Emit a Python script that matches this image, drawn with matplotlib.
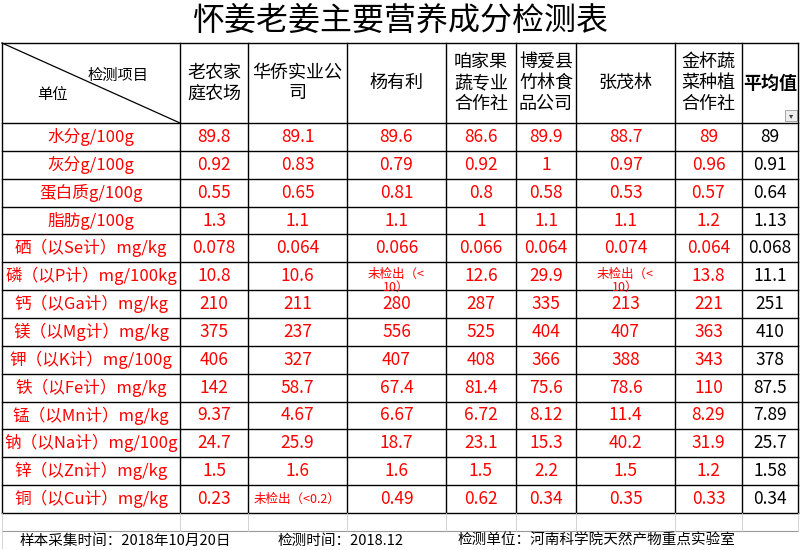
import matplotlib
matplotlib.use("Agg")
import matplotlib.pyplot as plt

plt.rcParams['font.family'] = ['Noto Sans CJK SC', 'DejaVu Sans']

title = "怀姜老姜主要营养成分检测表"
columns = ["老农家\n庭农场", "华侨实业公\n司", "杨有利", "咱家果\n蔬专业\n合作社", "博爱县\n竹林食\n品公司", "张茂林", "金杯蔬\n菜种植\n合作社", "平均值"]
items = ["水分g/100g", "灰分g/100g", "蛋白质g/100g", "脂肪g/100g", "硒（以Se计）mg/kg",
         "磷（以P计）mg/100kg", "钙（以Ga计）mg/kg", "镁（以Mg计）mg/kg", "钾（以K计）mg/100g",
         "铁（以Fe计）mg/kg", "锰（以Mn计）mg/kg", "钠（以Na计）mg/100g", "锌（以Zn计）mg/kg", "铜（以Cu计）mg/kg"]
values = [
    ["89.8", "89.1", "89.6", "86.6", "89.9", "88.7", "89", "89"],
    ["0.92", "0.83", "0.79", "0.92", "1", "0.97", "0.96", "0.91"],
    ["0.55", "0.65", "0.81", "0.8", "0.58", "0.53", "0.57", "0.64"],
    ["1.3", "1.1", "1.1", "1", "1.1", "1.1", "1.2", "1.13"],
    ["0.078", "0.064", "0.066", "0.066", "0.064", "0.074", "0.064", "0.068"],
    ["10.8", "10.6", "未检出（<\n10）", "12.6", "29.9", "未检出（<\n10）", "13.8", "11.1"],
    ["210", "211", "280", "287", "335", "213", "221", "251"],
    ["375", "237", "556", "525", "404", "407", "363", "410"],
    ["406", "327", "407", "408", "366", "388", "343", "378"],
    ["142", "58.7", "67.4", "81.4", "75.6", "78.6", "110", "87.5"],
    ["9.37", "4.67", "6.67", "6.72", "8.12", "11.4", "8.29", "7.89"],
    ["24.7", "25.9", "18.7", "23.1", "15.3", "40.2", "31.9", "25.7"],
    ["1.5", "1.6", "1.6", "1.5", "2.2", "1.5", "1.2", "1.58"],
    ["0.23", "未检出（<0.2）", "0.49", "0.62", "0.34", "0.35", "0.33", "0.34"],
]
footer = ["样本采集时间：2018年10月20日", "检测时间：2018.12", "检测单位：河南科学院天然产物重点实验室"]

xs = [2, 180, 248, 347, 446, 516, 576, 675, 742, 798]
y_title, y_head = 43, 123
row_h = (513 - 123) / 14
ys = [y_head + i * row_h for i in range(15)]
y_empty, y_bot = 531, 548

fig = plt.figure(figsize=(8, 5.5), dpi=100)
ax = fig.add_axes([0, 0, 1, 1])
ax.set_xlim(0, 800); ax.set_ylim(550, 0); ax.axis('off')

lw = 1.0
ax.text(400, 21, title, ha='center', va='center', fontsize=23)
for y in [y_title] + ys:
    ax.plot([xs[0], xs[-1]], [y, y], color='black', lw=lw)
ax.plot([xs[0], xs[-1]], [y_empty, y_empty], color='#999999', lw=0.8)
for x in xs:
    ax.plot([x, x], [y_title, ys[-1]], color='black', lw=lw)
    ax.plot([x, x], [ys[-1], y_empty], color='#cccccc', lw=0.6)
ax.plot([xs[0], xs[0]], [y_empty, y_bot], color='#cccccc', lw=0.6)
ax.plot([xs[0], xs[1]], [y_title, y_head], color='black', lw=0.9)
ax.text(118, 75, "检测项目", ha='center', va='center', fontsize=11)
ax.text(52, 95, "单位", ha='center', va='center', fontsize=11)

for j, c in enumerate(columns):
    cx = (xs[j + 1] + xs[j + 2]) / 2
    ax.text(cx, (y_title + y_head) / 2, c, ha='center', va='center', fontsize=13,
            linespacing=1.2, fontweight='bold' if c == "平均值" else 'normal')
ax.add_patch(plt.Rectangle((785, 110), 12, 11, fill=True, fc='#eeeeee', ec='#999999', lw=0.6))
ax.text(791, 116, "▾", ha='center', va='center', fontsize=6, color='#444444', family='DejaVu Sans')

for i, it in enumerate(items):
    cy = (ys[i] + ys[i + 1]) / 2
    ax.text((xs[0] + xs[1]) / 2, cy, it, ha='center', va='center', fontsize=12, color='red')
    for j, v in enumerate(values[i]):
        cx = (xs[j + 1] + xs[j + 2]) / 2
        col = 'black' if j == 7 else 'red'
        if "未检出" in v:
            if "\n" in v:
                ax.text(cx, cy + 5, v, ha='center', va='center', fontsize=9, color=col, linespacing=1.0)
            else:
                ax.text(cx, cy, v, ha='center', va='center', fontsize=9, color=col)
        else:
            ax.text(cx, cy, v, ha='center', va='center', fontsize=12.5, color=col)

ax.text(20, 541, footer[0], ha='left', va='center', fontsize=10.5)
ax.text(278, 541, footer[1], ha='left', va='center', fontsize=10.5)
ax.text(458, 541, footer[2], ha='left', va='center', fontsize=10.5)

fig.savefig("out.png", dpi=100)
